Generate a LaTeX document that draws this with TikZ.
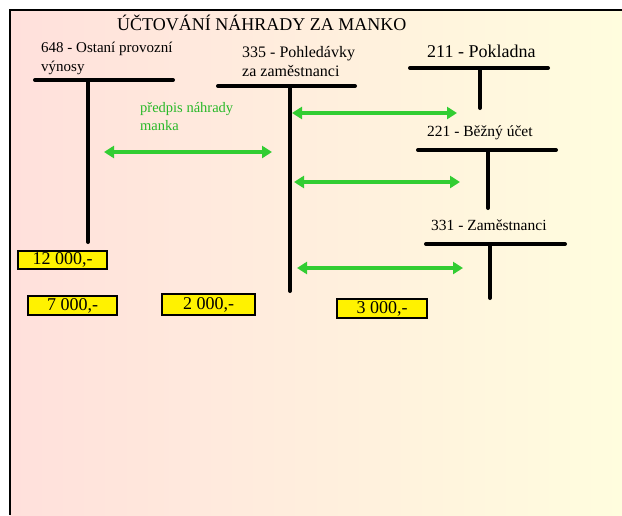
\documentclass[tikz,border=0pt]{standalone}
\usepackage{fontspec}
\setmainfont{Liberation Serif}
\usetikzlibrary{arrows.meta}
\definecolor{bgleft}{RGB}{255,224,220}
\definecolor{bgright}{RGB}{255,253,222}
\definecolor{arrgreen}{RGB}{50,205,50}
\definecolor{txtgreen}{RGB}{40,185,40}
\tikzset{
  lbl/.style={anchor=base west, inner sep=0pt, align=left},
  tline/.style={line width=4pt, line cap=round, black},
  garrow/.style={line width=4pt, arrgreen, {Triangle[length=10pt,width=12pt]}-{Triangle[length=10pt,width=12pt]}},
  amount/.style={draw=black, line width=1.8pt, fill=yellow, inner sep=0pt, font=\fontsize{18}{18}\selectfont},
}
\begin{document}
\begin{tikzpicture}[x=1pt,y=-1pt]
\useasboundingbox (0,0) rectangle (622,515);
\fill[white] (0,0) rectangle (622,515);
\shade[left color=bgleft, right color=bgright] (10,10) rectangle (622,515);
\draw[line width=2.5pt] (10,515) -- (10,10) -- (622,10);

% title
\node[lbl, font=\fontsize{18}{20}\selectfont] (title) at (117,30) {ÚČTOVÁNÍ NÁHRADY ZA MANKO};

% account labels (multi-line nodes: base = last line)
\node[lbl, font=\fontsize{15}{18.5}\selectfont] (l648) at (41,71) {648 - Ostaní provozní\\výnosy};
\node[lbl, font=\fontsize{16}{19}\selectfont] (l335) at (242,76) {335 - Pohledávky\\za zaměstnanci};
\node[lbl, font=\fontsize{18}{20}\selectfont] (l211) at (427,57) {211 - Pokladna};
\node[lbl, font=\fontsize{15.5}{18}\selectfont] (l221) at (427,136) {221 - Běžný účet};
\node[lbl, font=\fontsize{15.5}{18}\selectfont] (l331) at (431,230) {331 - Zaměstnanci};
\node[lbl, font=\fontsize{14.5}{17.5}\selectfont, text=txtgreen] (lpred) at (140,130) {předpis náhrady\\manka};

% T accounts
\coordinate (a648l) at (35,80);  \coordinate (a648r) at (173,80);
\coordinate (a648t) at (88,80);  \coordinate (a648b) at (88,242);
\coordinate (a335l) at (218,86); \coordinate (a335r) at (355,86);
\coordinate (a335t) at (290,86); \coordinate (a335b) at (290,291);
\coordinate (a211l) at (410,68); \coordinate (a211r) at (548,68);
\coordinate (a211t) at (480,68); \coordinate (a211b) at (480,108);
\coordinate (a221l) at (418,150); \coordinate (a221r) at (556,150);
\coordinate (a221t) at (488,150); \coordinate (a221b) at (488,208);
\coordinate (a331l) at (426,244); \coordinate (a331r) at (565,244);
\coordinate (a331t) at (490,244); \coordinate (a331b) at (490,298);

\draw[tline] (a648l) -- (a648r) (a648t) -- (a648b);
\draw[tline] (a335l) -- (a335r) (a335t) -- (a335b);
\draw[tline] (a211l) -- (a211r) (a211t) -- (a211b);
\draw[tline] (a221l) -- (a221r) (a221t) -- (a221b);
\draw[tline] (a331l) -- (a331r) (a331t) -- (a331b);

% green arrows
\coordinate (g1a) at (292,113); \coordinate (g1b) at (457,113);
\coordinate (g2a) at (104,152); \coordinate (g2b) at (272,152);
\coordinate (g3a) at (294,182); \coordinate (g3b) at (460,182);
\coordinate (g4a) at (297,268); \coordinate (g4b) at (463,268);
\draw[garrow] (g1a) -- (g1b);
\draw[garrow] (g2a) -- (g2b);
\draw[garrow] (g3a) -- (g3b);
\draw[garrow] (g4a) -- (g4b);

% amounts
\node[amount, minimum width=89pt, minimum height=18pt] (v12) at (62.5,260) {12 000,-};
\node[amount, minimum width=89pt, minimum height=19pt] (v7) at (72.5,305.5) {7 000,-};
\node[amount, minimum width=93pt, minimum height=21pt] (v2) at (208.5,304.5) {2 000,-};
\node[amount, minimum width=90pt, minimum height=19pt] (v3) at (382,308.5) {3 000,-};
\end{tikzpicture}
\end{document}
